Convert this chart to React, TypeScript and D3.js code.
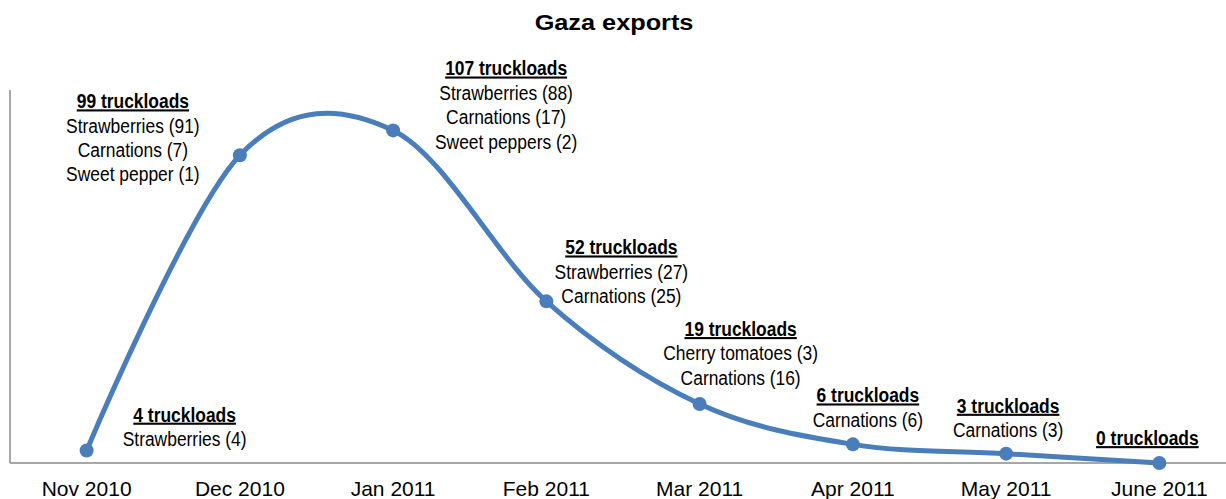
import React, { useEffect, useRef } from "react";
import * as d3 from "d3";

// chart data
const months = ["Nov 2010", "Dec 2010", "Jan 2011", "Feb 2011", "Mar 2011", "Apr 2011", "May 2011", "June 2011"];
const truckloads = [4, 99, 107, 52, 19, 6, 3, 0];
const breakdown = [
  ["Strawberries (4)"],
  ["Strawberries (91)", "Carnations (7)", "Sweet pepper (1)"],
  ["Strawberries (88)", "Carnations (17)", "Sweet peppers (2)"],
  ["Strawberries (27)", "Carnations (25)"],
  ["Cherry tomatoes (3)", "Carnations (16)"],
  ["Carnations (6)"],
  ["Carnations (3)"],
  [],
];
const yMax = 120;

// where each annotation sits relative to its point (px)
const labelOffsets = [
  [98, -29],
  [-107, -47],
  [113, -55],
  [75, -47],
  [41, -68],
  [15, -42],
  [2, -41],
  [-12, -18],
];

const W = 1226, H = 499;
const BLUE = "#4a7ebb";
const FONT = "'Liberation Sans', Arial, sans-serif";

const App = () => {
  const ref = useRef<SVGSVGElement>(null);

  useEffect(() => {
    document.body.style.margin = "0";
    const svg = d3.select(ref.current);
    svg.selectAll("*").remove();

    const x = d3.scalePoint<string>().domain(months).range([10, W + 10]).padding(0.5);
    const y = d3.scaleLinear().domain([0, yMax]).range([463, 90]);

    // title
    svg.append("text")
      .attr("transform", `translate(${W / 2 + 1},30) scale(1.15,1)`)
      .attr("text-anchor", "middle")
      .attr("font-family", FONT)
      .attr("font-weight", "bold")
      .attr("font-size", 22)
      .text("Gaza exports");

    // axis lines
    const axisG = svg.append("g").attr("stroke", "#8a8a8a").attr("stroke-width", 1.5);
    axisG.append("line").attr("x1", 10).attr("x2", 10).attr("y1", y(yMax)).attr("y2", y(0));
    axisG.append("line").attr("x1", 10).attr("x2", W).attr("y1", y(0)).attr("y2", y(0));

    // month labels
    svg.append("g")
      .selectAll("text")
      .data(months)
      .enter()
      .append("text")
      .attr("x", d => x(d)!)
      .attr("y", 496)
      .attr("text-anchor", "middle")
      .attr("font-family", FONT)
      .attr("font-size", 21)
      .text(d => d);

    // smooth line
    const line = d3.line<number>()
      .x((_, i) => x(months[i])!)
      .y(d => y(d))
      .curve(d3.curveCardinal.tension(0));

    svg.append("path")
      .datum(truckloads)
      .attr("d", line)
      .attr("fill", "none")
      .attr("stroke", BLUE)
      .attr("stroke-width", 5);

    svg.append("g")
      .selectAll("circle")
      .data(truckloads)
      .enter()
      .append("circle")
      .attr("cx", (_, i) => x(months[i])!)
      .attr("cy", d => y(d))
      .attr("r", 7)
      .attr("fill", BLUE);

    // annotations (narrow text, like the original)
    truckloads.forEach((v, i) => {
      const cx = x(months[i])! + labelOffsets[i][0];
      const cy = y(v) + labelOffsets[i][1];
      const g = svg.append("g")
        .attr("transform", `translate(${cx},${cy}) scale(0.83,1)`)
        .attr("font-family", FONT)
        .attr("font-size", 21)
        .attr("text-anchor", "middle");
      g.append("text")
        .attr("font-weight", "bold")
        .attr("text-decoration", "underline")
        .text(`${v} truckloads`);
      breakdown[i].forEach((t, j) => {
        g.append("text").attr("y", (j + 1) * 24.4).text(t);
      });
    });
  }, []);

  return <svg ref={ref} width={W} height={H} style={{ display: "block" }}></svg>;
};

export default App;
